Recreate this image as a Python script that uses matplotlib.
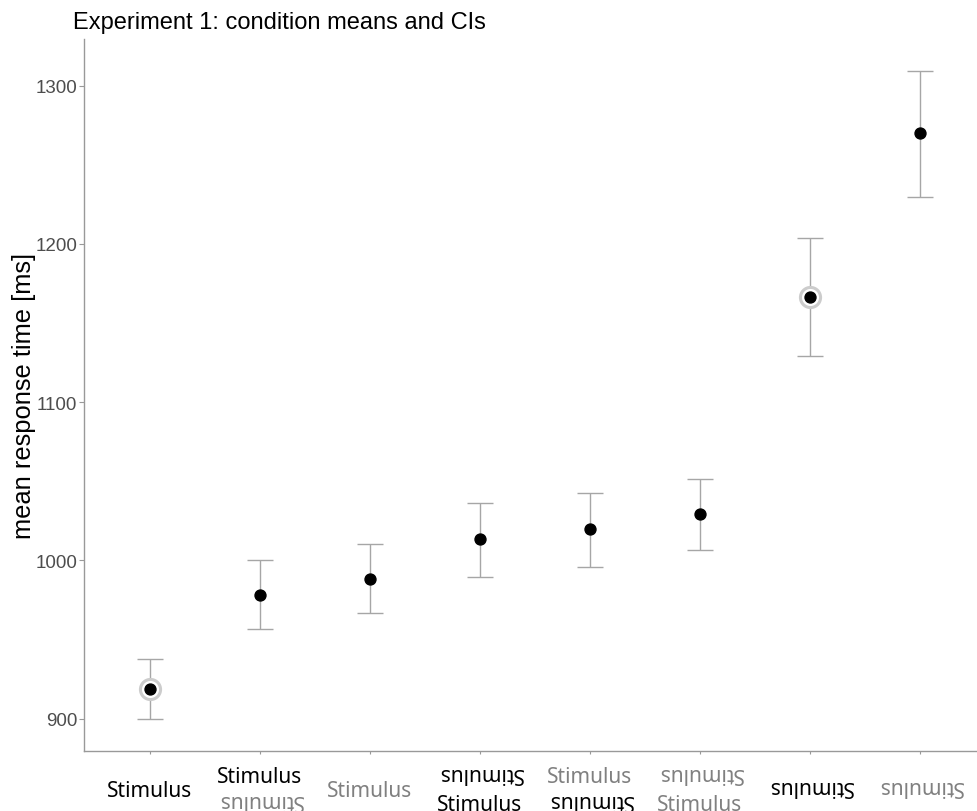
import matplotlib
matplotlib.use("Agg")
import matplotlib.pyplot as plt

# ---------- data ----------
conditions = [1, 2, 3, 4, 5, 6, 7, 8]
means = [918.5, 977.8, 988.5, 1013.2, 1019.6, 1029.0, 1166.7, 1269.8]
ci_low = [900.0, 956.3, 966.5, 989.2, 996.0, 1006.3, 1129.4, 1229.9]
ci_high = [937.6, 1000.4, 1010.5, 1036.2, 1042.8, 1051.7, 1203.6, 1309.2]
highlighted = [True, False, False, False, False, False, True, False]

# stimulus labels per condition: (orientation, colour) for top and bottom row
# a single stimulus has no bottom entry
stim_top = [("up", "k"), ("up", "k"), ("up", "g"), ("inv", "k"),
            ("up", "g"), ("inv", "g"), ("inv", "k"), ("inv", "g")]
stim_bottom = [None, ("inv", "g"), None, ("up", "k"),
               ("inv", "k"), ("up", "g"), None, None]
stim_text = "Stimulus"

y_ticks = [900, 1000, 1100, 1200, 1300]

# ---------- figure ----------
W, H = 977, 812
fig = plt.figure(figsize=(W / 100, H / 100), dpi=100)
left, right, top, bottom = 84, 977, 40, 752
ax = fig.add_axes([left / W, 1 - bottom / H, (right - left) / W, (bottom - top) / H])

err_col = "#a6a6a6"
ax.errorbar(conditions, means,
            yerr=[[m - lo for m, lo in zip(means, ci_low)],
                  [hi - m for m, hi in zip(means, ci_high)]],
            fmt="none", ecolor=err_col, elinewidth=1.0, capsize=9.7, capthick=1.0, zorder=2)

hx = [c for c, h in zip(conditions, highlighted) if h]
hy = [m for m, h in zip(means, highlighted) if h]
ax.scatter(hx, hy, s=210, facecolor="white", edgecolor="#cccccc", linewidth=2.2, zorder=3)
ax.scatter(conditions, means, s=62, color="black", zorder=4)

ax.set_xlim(0.4, 0.4 + (right - left) / 110)
ax.set_ylim(879.5, 1329.5)
ax.set_yticks(y_ticks)
ax.set_yticklabels([str(t) for t in y_ticks], fontsize=13.5, color="#4d4d4d",
                   family="Liberation Sans")
ax.set_xticks(conditions)
ax.set_xticklabels([""] * len(conditions))
ax.tick_params(axis="both", length=3.5, width=0.8, color="#999999", pad=1.5)
ax.tick_params(axis="x", length=2.5)

for side in ["top", "right"]:
    ax.spines[side].set_visible(False)
for side in ["left", "bottom"]:
    ax.spines[side].set_color("#999999")
    ax.spines[side].set_linewidth(1.0)

px = 72 / 100  # points per pixel
half_h = 7.6    # half visual height of the label, pixels


def put_label(x, spec, dy):
    # dy: pixel distance of the label's visual centre below the x axis
    orient, col = spec
    if orient == "up":
        off, rot = -(dy + half_h), 0
    else:
        off, rot = -(dy - half_h), 180
    ax.annotate(stim_text, xy=(x, 0), xycoords=("data", "axes fraction"),
                xytext=(0, off * px), textcoords="offset points",
                ha="center", va="baseline", rotation=rot, rotation_mode="anchor",
                color="black" if col == "k" else "#808080",
                fontsize=15, family="Noto Sans", annotation_clip=False)


for x, t, b in zip(conditions, stim_top, stim_bottom):
    if b is None:
        put_label(x, t, 37)
    else:
        put_label(x, t, 23.5)
        put_label(x, b, 51)

ax.set_ylabel("mean response time [ms]", fontsize=18.4, family="Liberation Sans")
ax.yaxis.set_label_coords((36 - left) / (right - left), 0.5)
fig.text(left / W - 0.011, 1 - 23 / H, "Experiment 1: condition means and CIs",
         fontsize=17, family="Liberation Sans", va="center", ha="left")

fig.savefig("out.png", dpi=100)
